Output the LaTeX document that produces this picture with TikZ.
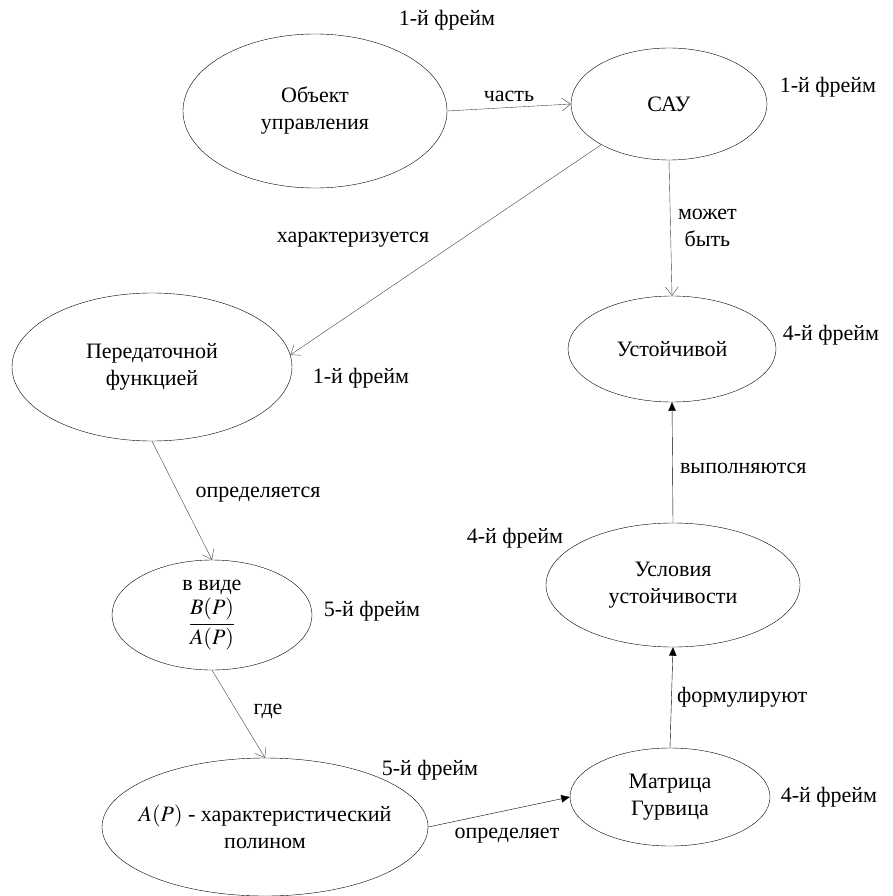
\documentclass[tikz,border=0pt]{standalone}
\usepackage{amsmath}
\usepackage{mathptmx}
\usepackage{fontspec}
\setmainfont{Liberation Serif}
\usepackage{tikz}
\usetikzlibrary{shapes.geometric, arrows.meta, positioning}

\begin{document}
\begin{tikzpicture}[
    x=1pt, y=-1pt,
    every node/.style={font=\fontsize{22}{27}\selectfont},
    frame/.style={ellipse, draw=black, thin, align=center, inner sep=0pt},
    tag/.style={inner sep=1pt},
    rel/.style={draw=black!75, thin, -{Straight Barb[length=3mm, width=4.5mm]}},
    cond/.style={draw=black, thin, -{Triangle[length=3mm, width=2.6mm]}}
]
    \useasboundingbox (0,0) rectangle (893,896);

    % Ellipses
    \node[frame, minimum width=264, minimum height=154] (obj) at (315,111) {Объект\\управления};
    \node[frame, minimum width=196, minimum height=112] (sau) at (669,104) {САУ};
    \node[frame, minimum width=280, minimum height=148] (peredat) at (152,367) {Передаточной\\функцией};
    \node[frame, minimum width=208, minimum height=106] (ustoich) at (672,349) {Устойчивой};
    \node[frame, minimum width=254, minimum height=124] (uslov) at (673,585) {Условия\\устойчивости};
    \node[frame, minimum width=200, minimum height=110] (vvide) at (212,615) {в виде\\[3pt]$\dfrac{B(P)}{A(P)}$};
    \node[frame, inner xsep=-12pt, minimum width=326, minimum height=138] (polinom) at (265,827) {$A(P)$ - характеристический\\полином};
    \node[frame, minimum width=200, minimum height=98] (gurvic) at (670,797) {Матрица\\Гурвица};

    % Frame numbers
    \node[tag] (f1) at (447,20) {1-й фрейм};
    \node[tag] (f2) at (828,87) {1-й фрейм};
    \node[tag] (f3) at (361,378) {1-й фрейм};
    \node[tag] (f4) at (831,335) {4-й фрейм};
    \node[tag] (f5) at (515,538) {4-й фрейм};
    \node[tag] (f6) at (372,611) {5-й фрейм};
    \node[tag] (f7) at (430,770) {5-й фрейм};
    \node[tag] (f8) at (829,797) {4-й фрейм};

    % Relations
    \draw[rel] (obj.east) -- node[above=2pt] {часть} (sau.west);
    \draw[rel] (sau.211) -- (peredat.5);
    \node[tag] (l1) at (353,240) {характеризуется};
    \draw[rel] (sau.south) -- node[right=4pt, align=center] {может\\быть} (ustoich.north);
    \draw[rel] (peredat.south) -- (vvide.north);
    \node[tag] (l2) at (258,495) {определяется};
    \draw[rel] (vvide.south) -- (polinom.north);
    \node[tag] (l3) at (268,711) {где};
    \draw[cond] (polinom.east) -- (gurvic.west);
    \node[tag] (l4) at (507,836) {определяет};
    \draw[cond] (gurvic.north) -- node[right=2pt] {формулируют} (uslov.south);
    \draw[cond] (uslov.north) -- node[right=4pt, pos=0.45] {выполняются} (ustoich.south);
\end{tikzpicture}
\end{document}
